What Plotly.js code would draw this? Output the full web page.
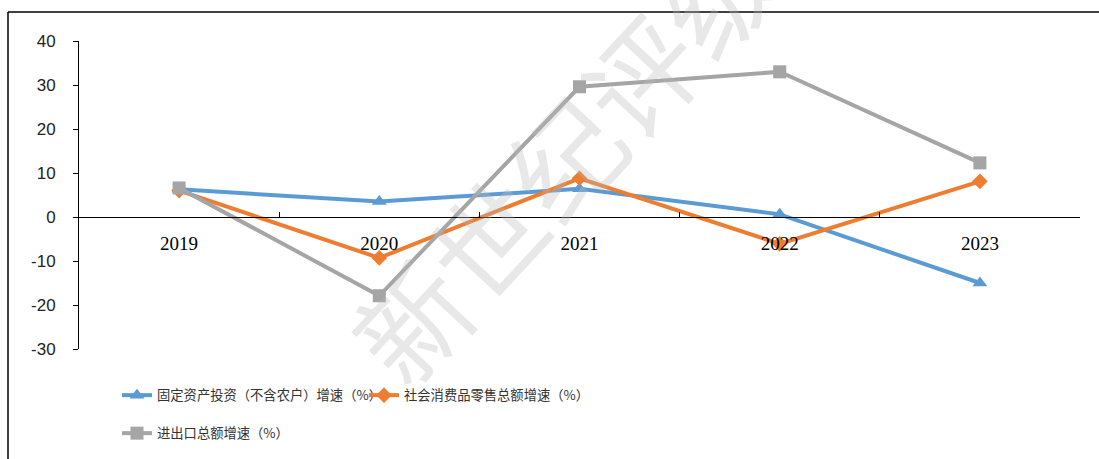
<!DOCTYPE html>
<html>
<head>
<meta charset="utf-8">
<script src="https://cdn.plot.ly/plotly-3.0.1.min.js"></script>
<style>
  html, body { margin: 0; padding: 0; background: #fff; }
  #chart { width: 1099px; height: 459px; }
</style>
</head>
<body>
<div id="chart"></div>
<script>
const years = ['2019', '2020', '2021', '2022', '2023'];
const fixedInvestment = [6.3, 3.5, 6.4, 0.6, -15.0];
const retailSales = [6.0, -9.3, 8.8, -6.1, 8.1];
const tradeTotal = [6.6, -17.9, 29.6, 33.0, 12.3];
const seriesNames = ['固定资产投资（不含农户）增速（%）', '社会消费品零售总额增速（%）', '进出口总额增速（%）'];
const yTicks = [-30, -20, -10, 0, 10, 20, 30, 40];

const W = 1099, H = 459;
const L = 79, R = 19, T = 41, B = 110;
const pw = W - L - R, ph = H - T - B;
const px = x => (x - L) / pw;
const py = y => (H - B - y) / ph;

const traces = [
  {
    x: years, y: fixedInvestment, name: seriesNames[0], type: 'scatter', mode: 'lines+markers',
    line: { color: '#5B9BD5', width: 4 },
    marker: { symbol: 'triangle-up', size: 13, color: '#5B9BD5' },
    legend: 'legend'
  },
  {
    x: years, y: retailSales, name: seriesNames[1], type: 'scatter', mode: 'lines+markers',
    line: { color: '#ED7D31', width: 4 },
    marker: { symbol: 'diamond', size: 12, color: '#ED7D31' },
    legend: 'legend'
  },
  {
    x: years, y: tradeTotal, name: seriesNames[2], type: 'scatter', mode: 'lines+markers',
    line: { color: '#A5A5A5', width: 4 },
    marker: { symbol: 'square', size: 13, color: '#A5A5A5' },
    legend: 'legend2'
  }
];

const legendFont = { family: '"Noto Sans CJK SC", sans-serif', size: 13.3, color: '#333' };

const layout = {
  width: W, height: H,
  margin: { l: L, r: R, t: T, b: B, pad: 0, autoexpand: false },
  paper_bgcolor: '#fff', plot_bgcolor: 'rgba(0,0,0,0)',
  showlegend: true,
  xaxis: {
    type: 'category', range: [-0.5, 4.5],
    anchor: 'free', position: 30 / 70,
    showline: true, linecolor: '#000', linewidth: 1,
    ticks: 'inside', tickson: 'boundaries', ticklen: 5, tickcolor: '#000',
    showgrid: false, zeroline: false,
    ticklabelstandoff: 9,
    tickfont: { family: '"Liberation Serif", "DejaVu Serif", serif', size: 19, color: '#000' }
  },
  yaxis: {
    range: [-30, 40], tickvals: yTicks, ticktext: yTicks.map(String),
    showline: true, linecolor: '#000', linewidth: 1,
    ticks: 'outside', ticklen: 5, tickcolor: '#000',
    showgrid: false, zeroline: false,
    ticklabelstandoff: 14,
    tickfont: { family: '"Liberation Sans", Arial, sans-serif', size: 17, color: '#222' }
  },
  legend: {
    orientation: 'h', x: px(117), xanchor: 'left', y: py(380), yanchor: 'top',
    font: legendFont, bgcolor: 'rgba(0,0,0,0)', borderwidth: 0,
    entrywidth: 202, entrywidthmode: 'pixels', traceorder: 'normal'
  },
  legend2: {
    orientation: 'h', x: px(117), xanchor: 'left', y: py(418), yanchor: 'top',
    font: legendFont, bgcolor: 'rgba(0,0,0,0)', borderwidth: 0
  },
  shapes: [
    { type: 'line', xref: 'paper', yref: 'paper', x0: px(8), x1: px(1099), y0: py(12), y1: py(12), line: { color: '#000', width: 1.5 } },
    { type: 'line', xref: 'paper', yref: 'paper', x0: px(8), x1: px(8), y0: py(12), y1: py(459), line: { color: '#000', width: 1.5 } }
  ],
  annotations: [
    {
      text: '新世纪评级', xref: 'paper', yref: 'paper', x: px(562), y: py(155),
      xanchor: 'center', yanchor: 'middle',
      showarrow: false, textangle: -47,
      font: { family: '"Noto Sans CJK SC", sans-serif', size: 112, color: 'rgba(185,185,185,0.33)' }
    }
  ]
};

Plotly.newPlot('chart', traces, layout, { displayModeBar: false, staticPlot: true });
</script>
</body>
</html>
